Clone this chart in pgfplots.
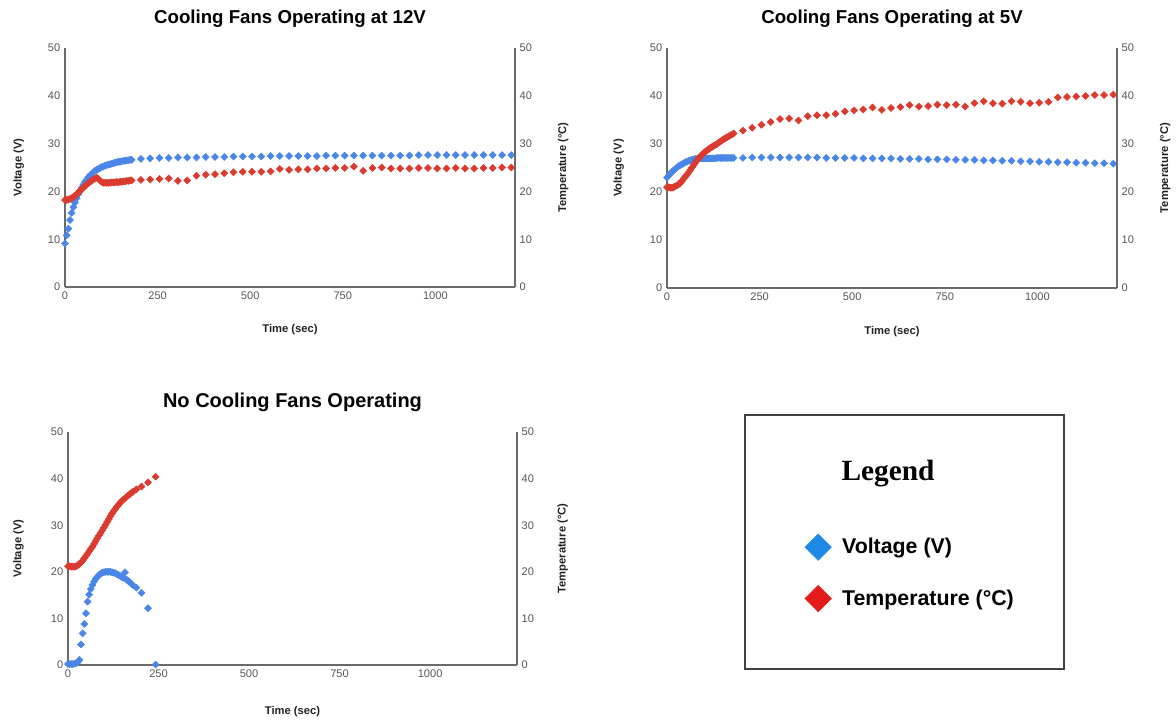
\documentclass[border=0pt]{standalone}
\usepackage{fontspec}
\setmainfont{Liberation Sans}
\newfontfamily\legserif{Liberation Serif}
\usepackage{pgfplots}
\pgfplotsset{compat=1.18}
\definecolor{vblue}{HTML}{4A86E8}
\definecolor{tred}{HTML}{DA3B2E}
\definecolor{lblue}{HTML}{1E88E5}
\definecolor{lred}{HTML}{E51B1B}
\definecolor{axgray}{HTML}{6A6A6A}
\definecolor{tickgray}{HTML}{555555}
\definecolor{labgray}{HTML}{222222}

\pgfplotsset{
  chartbase/.style={
    scale only axis,
    xmin=0, ymin=0, ymax=50,
    ytick={0,10,20,30,40,50},
    xtick={0,250,500,750,1000},
    major tick length=0pt,
    tick label style={font=\fontsize{8.3}{9}\selectfont, text=tickgray},
    /pgf/number format/assume math mode=true,
    /pgf/number format/1000 sep={},
    axis line style={draw=axgray, line width=0.8pt, -},
    clip=false,
    label style={font=\bfseries\fontsize{8.4}{10}\selectfont, text=labgray},
  },
  vmark/.style={only marks, mark=square*, mark size=1.85pt, mark options={rotate=45, fill=vblue, draw=vblue}, forget plot},
  tmark/.style={only marks, mark=square*, mark size=1.85pt, mark options={rotate=45, fill=tred, draw=tred}, forget plot},
}

\begin{document}
\begin{tikzpicture}
\useasboundingbox (0pt,0pt) rectangle (882pt,-540.75pt);

% ---------------- Top-left: 12V ----------------
\begin{axis}[chartbase, width=337.5pt, height=179.25pt, xmax=1215,
  at={(48.75pt,-215.25pt)}, anchor=south west,
  axis x line*=bottom, axis y line*=left,
  title={Cooling Fans Operating at 12V},
  title style={at={(axis description cs:0.5,1.088)}, anchor=center, font=\bfseries\fontsize{14}{16}\selectfont},
  xlabel={Time (sec)}, xlabel style={at={(axis description cs:0.5,-0.18)}, anchor=center},
  ylabel={Voltage (V)}, ylabel style={at={(axis description cs:-0.103,0.5)}, anchor=center, rotate=0}]
\addplot[vmark] coordinates {(0,9.1)(4.5,10.8)(9,12.2)(13.5,14.0)(18,15.5)(22.5,16.7)(27,17.7)(31.5,18.6)(36,19.4)(40.5,20.1)(45,20.8)(49.5,21.4)(54,22.0)(58.5,22.5)(63,23.0)(67.5,23.4)(72,23.7)(76.5,24.0)(81,24.3)(85.5,24.5)(90,24.7)(94.5,24.9)(99,25.1)(103.5,25.2)(108,25.4)(112.5,25.5)(117,25.6)(121.5,25.7)(126,25.8)(130.5,25.9)(135,26.0)(139.5,26.1)(144,26.2)(148.5,26.2)(153,26.3)(157.5,26.4)(162,26.4)(166.5,26.5)(171,26.5)(175.5,26.6)(180,26.6)
(205,26.8)(230,26.9)(255,27.0)(280,27.0)(305,27.1)(330,27.1)(355,27.1)(380,27.2)(405,27.2)(430,27.2)(455,27.3)(480,27.3)(505,27.3)(530,27.3)(555,27.4)(580,27.4)(605,27.4)(630,27.4)(655,27.4)(680,27.4)(705,27.5)(730,27.5)(755,27.5)(780,27.5)(805,27.5)(830,27.5)(855,27.5)(880,27.5)(905,27.5)(930,27.5)(955,27.6)(980,27.6)(1005,27.6)(1030,27.6)(1055,27.6)(1080,27.6)(1105,27.6)(1130,27.6)(1155,27.6)(1180,27.6)(1205,27.6)};
\addplot[tmark] coordinates {(0,18.2)(4.5,18.2)(9,18.3)(13.5,18.4)(18,18.6)(22.5,18.8)(27,19.1)(31.5,19.4)(36,19.8)(40.5,20.1)(45,20.5)(49.5,20.8)(54,21.1)(58.5,21.4)(63,21.7)(67.5,22.0)(72,22.2)(76.5,22.5)(81,22.7)(85.5,22.9)(90,22.6)(94.5,22.3)(99,22.0)(103.5,21.8)(108,21.8)(112.5,21.8)(117,21.8)(121.5,21.8)(126,21.9)(130.5,21.9)(135,21.9)(139.5,22.0)(144,21.9)(148.5,22.0)(153,22.0)(157.5,22.1)(162,22.1)(166.5,22.2)(171,22.2)(175.5,22.3)(180,22.3)
(205,22.4)(230,22.5)(255,22.6)(280,22.7)(305,22.2)(330,22.3)(355,23.3)(380,23.5)(405,23.6)(430,23.8)(455,24.0)(480,24.1)(505,24.1)(530,24.1)(555,24.2)(580,24.7)(605,24.5)(630,24.6)(655,24.6)(680,24.8)(705,24.8)(730,24.9)(755,24.9)(780,25.2)(805,24.3)(830,24.9)(855,25.0)(880,24.8)(905,24.8)(930,24.8)(955,24.9)(980,24.9)(1005,24.8)(1030,24.8)(1055,24.9)(1080,24.8)(1105,24.8)(1130,24.9)(1155,24.9)(1180,25.0)(1205,25.0)};
\end{axis}
\begin{axis}[chartbase, width=337.5pt, height=179.25pt, xmax=1215,
  at={(48.75pt,-215.25pt)}, anchor=south west,
  axis x line=none, axis y line*=right,
  ylabel={Temperature (°C)}, ylabel style={at={(axis description cs:1.107,0.5)}, anchor=center, rotate=0}]
\end{axis}

% ---------------- Top-right: 5V ----------------
\begin{axis}[chartbase, width=337.5pt, height=180pt, xmax=1215,
  at={(500.25pt,-216pt)}, anchor=south west,
  axis x line*=bottom, axis y line*=left,
  title={Cooling Fans Operating at 5V},
  title style={at={(axis description cs:0.5,1.088)}, anchor=center, font=\bfseries\fontsize{14}{16}\selectfont},
  xlabel={Time (sec)}, xlabel style={at={(axis description cs:0.5,-0.18)}, anchor=center},
  ylabel={Voltage (V)}, ylabel style={at={(axis description cs:-0.107,0.5)}, anchor=center, rotate=0}]
\addplot[vmark] coordinates {(0,23.0)(4.5,23.4)(9,23.8)(13.5,24.2)(18,24.5)(22.5,24.8)(27,25.1)(31.5,25.4)(36,25.6)(40.5,25.8)(45,26.0)(49.5,26.2)(54,26.3)(58.5,26.5)(63,26.6)(67.5,26.7)(72,26.8)(76.5,26.9)(81,26.9)(85.5,27.0)(90,27.0)(94.5,27.0)(99,27.0)(103.5,27.0)(108,27.0)(112.5,27.0)(117,27.0)(121.5,27.0)(126,27.0)(130.5,27.0)(135,27.1)(139.5,27.1)(144,27.1)(148.5,27.1)(153,27.1)(157.5,27.1)(162,27.1)(166.5,27.1)(171,27.1)(175.5,27.1)(180,27.1)
(205,27.1)(230,27.2)(255,27.2)(280,27.2)(305,27.2)(330,27.2)(355,27.2)(380,27.2)(405,27.2)(430,27.1)(455,27.1)(480,27.1)(505,27.1)(530,27.0)(555,27.0)(580,27.0)(605,27.0)(630,26.9)(655,26.9)(680,26.9)(705,26.8)(730,26.8)(755,26.8)(780,26.7)(805,26.7)(830,26.7)(855,26.6)(880,26.6)(905,26.5)(930,26.5)(955,26.4)(980,26.4)(1005,26.3)(1030,26.3)(1055,26.2)(1080,26.2)(1105,26.1)(1130,26.1)(1155,26.0)(1180,26.0)(1205,25.9)};
\addplot[tmark] coordinates {(0,21.0)(4.5,21.0)(9,20.9)(13.5,20.9)(18,21.0)(22.5,21.2)(27,21.4)(31.5,21.6)(36,21.9)(40.5,22.3)(45,22.8)(49.5,23.2)(54,23.6)(58.5,24.1)(63,24.6)(67.5,25.1)(72,25.6)(76.5,26.1)(81,26.6)(85.5,27.0)(90,27.4)(94.5,27.8)(99,28.1)(103.5,28.4)(108,28.7)(112.5,28.9)(117,29.2)(121.5,29.4)(126,29.6)(130.5,29.8)(135,30.0)(139.5,30.3)(144,30.5)(148.5,30.8)(153,31.0)(157.5,31.2)(162,31.4)(166.5,31.6)(171,31.8)(175.5,32.0)(180,32.2)
(205,32.8)(230,33.4)(255,34.0)(280,34.6)(305,35.2)(330,35.3)(355,34.9)(380,35.8)(405,36.0)(430,36.0)(455,36.3)(480,36.8)(505,37.0)(530,37.2)(555,37.6)(580,37.1)(605,37.5)(630,37.7)(655,38.1)(680,37.8)(705,37.9)(730,38.2)(755,38.1)(780,38.2)(805,37.8)(830,38.5)(855,38.9)(880,38.5)(905,38.4)(930,38.9)(955,38.8)(980,38.5)(1005,38.6)(1030,38.8)(1055,39.7)(1080,39.8)(1105,39.9)(1130,40.0)(1155,40.2)(1180,40.2)(1205,40.3)};
\end{axis}
\begin{axis}[chartbase, width=337.5pt, height=180pt, xmax=1215,
  at={(500.25pt,-216pt)}, anchor=south west,
  axis x line=none, axis y line*=right,
  ylabel={Temperature (°C)}, ylabel style={at={(axis description cs:1.107,0.5)}, anchor=center, rotate=0}]
\end{axis}

% ---------------- Bottom-left: no fans ----------------
\begin{axis}[chartbase, width=336.75pt, height=174.75pt, xmax=1240,
  at={(51pt,-498.75pt)}, anchor=south west,
  axis x line*=bottom, axis y line*=left,
  title={No Cooling Fans Operating},
  title style={at={(axis description cs:0.5,1.094)}, anchor=center, font=\bfseries\fontsize{15}{17}\selectfont},
  xlabel={Time (sec)}, xlabel style={at={(axis description cs:0.5,-0.2)}, anchor=center},
  ylabel={Voltage (V)}, ylabel style={at={(axis description cs:-0.11,0.5)}, anchor=center, rotate=0},
  legend style={at={(axis description cs:1.632,0.575)}, anchor=north west, draw=none, fill=none,
    font=\bfseries\fontsize{16}{18}\selectfont, row sep=18.75pt,
    /tikz/every odd column/.style={column sep=6pt}},
  legend cell align=left,
  legend image code/.code={\draw[#1] plot coordinates {(0pt,0pt)};}]
\addlegendimage{only marks, mark=square*, mark size=7pt, mark options={rotate=45, fill=lblue, draw=lblue}}
\addlegendentry{Voltage (V)}
\addlegendimage{only marks, mark=square*, mark size=7pt, mark options={rotate=45, fill=lred, draw=lred}}
\addlegendentry{Temperature (°C)}
\addplot[vmark] coordinates {(0,0.2)(4.5,0.2)(9,0.2)(13.5,0.2)(18,0.3)(22.5,0.4)(27,0.6)(31.5,1.1)(36,4.4)(40.5,6.8)(45,8.8)(49.5,11.1)(54,13.6)(58.5,15.1)(63,16.3)(67.5,17.2)(72,17.9)(76.5,18.5)(81,18.9)(85.5,19.3)(90,19.6)(94.5,19.8)(99,19.9)(103.5,20.0)(108,20.0)(112.5,20.0)(117,20.0)(121.5,19.9)(126,19.8)(130.5,19.7)(135,19.5)(139.5,19.3)(144,19.1)(148.5,18.9)(153,18.7)(157.5,19.9)(162,18.3)(166.5,18.0)(171,17.7)(175.5,17.4)(180,17.1)
(189,16.6)(203,15.5)(221,12.2)(242,0.1)};
\addplot[tmark] coordinates {(0,21.2)(4.5,21.2)(9,21.1)(13.5,21.1)(18,21.1)(22.5,21.2)(27,21.4)(31.5,21.7)(36,22.0)(40.5,22.4)(45,22.9)(49.5,23.4)(54,23.9)(58.5,24.4)(63,24.9)(67.5,25.4)(72,26.0)(76.5,26.6)(81,27.2)(85.5,27.8)(90,28.3)(94.5,28.9)(99,29.5)(103.5,30.1)(108,30.7)(112.5,31.3)(117,31.9)(121.5,32.5)(126,33.0)(130.5,33.5)(135,34.0)(139.5,34.4)(144,34.8)(148.5,35.2)(153,35.5)(157.5,35.8)(162,36.1)(166.5,36.4)(171,36.7)(175.5,37.0)(180,37.2)
(189,37.7)(203,38.3)(221,39.2)(242,40.4)};
\end{axis}
\begin{axis}[chartbase, width=336.75pt, height=174.75pt, xmax=1240,
  at={(51pt,-498.75pt)}, anchor=south west,
  axis x line=none, axis y line*=right,
  ylabel={Temperature (°C)}, ylabel style={at={(axis description cs:1.102,0.5)}, anchor=center, rotate=0}]
\end{axis}

% ---------------- Legend box ----------------
\draw[draw=black!75, line width=0.8pt] (558.75pt,-311.25pt) rectangle (798pt,-501.75pt);
\node[font=\legserif\bfseries\fontsize{22}{25}\selectfont] at (666pt,-355pt) {Legend};
\end{tikzpicture}
\end{document}
